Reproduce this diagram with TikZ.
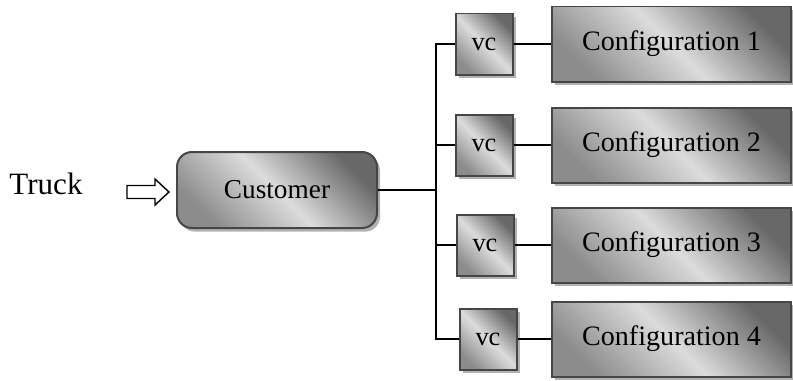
\documentclass[tikz,border=0pt]{standalone}
\usepackage{fontspec}
\setmainfont{Liberation Serif}
\usetikzlibrary{shadows, positioning}

\definecolor{boxedge}{RGB}{70,70,70}
\definecolor{boxdark}{RGB}{104,104,104}
\definecolor{boxmid}{RGB}{140,140,140}
\definecolor{boxlight}{RGB}{220,220,220}
\definecolor{shadowgray}{RGB}{178,178,178}

\tikzset{
    shadedbox/.style={rectangle, draw=boxedge, line width=1.7pt, left color=boxmid, right color=boxdark, middle color=boxlight, shading angle=135, inner sep=0pt, drop shadow={shadow xshift=0.09cm, shadow yshift=-0.11cm, fill=shadowgray, opacity=1}},
    custbox/.style={shadedbox, rounded corners=0.45cm, minimum width=6cm, minimum height=2.28cm, font=\fontsize{23.3}{27}\selectfont},
    vcbox/.style={shadedbox, minimum width=1.71cm, minimum height=1.83cm, font=\fontsize{22.5}{26}\selectfont},
    confbox/.style={shadedbox, minimum width=7.17cm, minimum height=2.25cm, font=\fontsize{24}{28}\selectfont},
    link/.style={line width=1.6pt, black},
    inarrow/.style={draw=black, fill=white, line width=1.2pt, line join=miter}
}

\begin{document}
\begin{tikzpicture}[x=0.03cm, y=-0.03cm]
\useasboundingbox (0,0) rectangle (793,380);

\node[custbox] (cust) at (277,190) {Customer};
\node[font=\fontsize{26.5}{30}\selectfont, inner sep=0pt] (truck) at (46,184) {Truck};

% hollow block arrow into the customer box
\coordinate (tip) at (169,192);
\draw[inarrow] (tip) -- ++(-14,-13) -- ++(0,6.5) -- ++(-28,0) -- ++(0,13)
    -- ++(28,0) -- ++(0,6.5) -- cycle;

% split point of the bus
\coordinate (jn) at (436,190);
\draw[link] (cust.east) -- (jn);

\foreach \i/\y/\x in {1/44/484, 2/145/484, 3/245/485, 4/339/488} {
    \node[vcbox] (vc\i) at (\x,\y) {vc};
    \node[confbox] (conf\i) at (671.5,\y) {Configuration \i};
    \draw[link] (vc\i) -- (conf\i);
    \draw[link] (jn) |- (vc\i);
}

\end{tikzpicture}
\end{document}
